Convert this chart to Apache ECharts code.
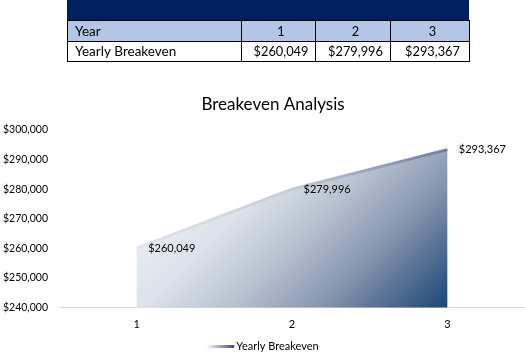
<!DOCTYPE html>
<html><head><meta charset="utf-8">
<script src="https://cdn.jsdelivr.net/npm/echarts@6/dist/echarts.min.js"></script>
<style>html,body{margin:0;padding:0;background:#fff}#c{width:525px;height:361px}</style>
</head><body><div id="c"></div>
<script>
const years = ['1', '2', '3'];
const breakeven = [260049, 279996, 293367];
const seriesName = 'Yearly Breakeven';
const rowLabels = ['Year', 'Yearly Breakeven'];
const chartTitle = 'Breakeven Analysis';

const FONT = 'Lato';
const fmt = v => '$' + Math.round(v).toLocaleString('en-US');

// table layout
const colX = [67, 241, 315, 390, 469];
const rowY = [0, 20, 41, 61];
const g = [];
g.push({type:'rect', shape:{x:colX[0], y:rowY[0], width:colX[4]-colX[0], height:rowY[1]-rowY[0]}, style:{fill:'#002060'}});
g.push({type:'rect', shape:{x:colX[0], y:rowY[1], width:colX[4]-colX[0], height:rowY[2]-rowY[1]}, style:{fill:'#b4c6e7'}});
for (let r = 1; r < rowY.length; r++) {
  g.push({type:'line', shape:{x1:colX[0], y1:rowY[r]+0.5, x2:colX[4]+1, y2:rowY[r]+0.5}, style:{stroke:'#000', lineWidth:1}});
}
for (let c = 0; c < colX.length; c++) {
  g.push({type:'line', shape:{x1:colX[c]+0.5, y1:rowY[1], x2:colX[c]+0.5, y2:rowY[3]}, style:{stroke:'#000', lineWidth:1}});
}
const rowVals = [years, breakeven.map(fmt)];
for (let r = 0; r < 2; r++) {
  const cy = (rowY[r+1] + rowY[r+2]) / 2 + 1;
  g.push({type:'text', x:colX[0]+8, y:cy, style:{text:rowLabels[r], fill:'#000', font:'13.5px ' + FONT, textVerticalAlign:'middle', verticalAlign:'middle'}});
  for (let c = 0; c < 3; c++) {
    const cx = (colX[c+1] + colX[c+2]) / 2 + 3;
    g.push({type:'text', x:cx, y:cy, style:{text:rowVals[r][c], fill:'#000', font:'12.8px ' + FONT, textAlign:'center', align:'center', textVerticalAlign:'middle', verticalAlign:'middle'}});
  }
}

const chart = echarts.init(document.getElementById('c'));
chart.setOption({
  animation: false,
  textStyle: {fontFamily: FONT},
  title: {text: chartTitle, left: 268, top: 91, textAlign: 'center',
    textStyle: {fontFamily: FONT, fontSize: 17, fontWeight: 'normal', color: '#000'}},
  graphic: g,
  grid: {left: 59, right: -2, top: 130, bottom: 53.5},
  legend: {bottom: 4, left: 'center', itemWidth: 28, itemHeight: 3, icon: 'rect',
    itemGap: 2,
    textStyle: {fontFamily: FONT, fontSize: 11, color: '#000', padding: [0,0,0,-3]},
    data: [{name: seriesName, itemStyle: {color: new echarts.graphic.LinearGradient(0,0,1,0,[{offset:0,color:'#ffffff'},{offset:1,color:'#3b4d7a'}])}}]},
  xAxis: {type: 'category', data: years, boundaryGap: true,
    axisLine: {lineStyle: {color: '#d9d9d9'}}, axisTick: {show: false},
    axisLabel: {color: '#000', fontSize: 11, margin: 11, fontFamily: FONT}},
  yAxis: {type: 'value', min: 240000, max: 300000, interval: 10000,
    splitLine: {show: false}, axisLine: {show: false}, axisTick: {show: false},
    axisLabel: {formatter: fmt, align: 'left', margin: 56, color: '#000', fontSize: 10.5, fontFamily: FONT}},
  series: [{
    name: seriesName, type: 'line', data: breakeven,
    symbol: 'circle', symbolSize: 1,
    itemStyle: {color: 'rgba(0,0,0,0)'},
    lineStyle: {width: 3, color: new echarts.graphic.LinearGradient(0,0,1,0,[{offset:0,color:'#e2e5ed'},{offset:0.5,color:'#c6cbd9'},{offset:1,color:'#6e7ba0'}])},
    areaStyle: {opacity: 1, color: new echarts.graphic.LinearGradient(0,0,0.753,1.487,[
      {offset:0, color:'#f6f7fa'},
      {offset:0.35, color:'#dde2ea'},
      {offset:0.55, color:'#b3bfcd'},
      {offset:0.72, color:'#8797b0'},
      {offset:1, color:'#1c4676'}])},
    label: {show: true, position: 'right', distance: 11, formatter: p => fmt(p.value), color: '#000', fontSize: 11, fontFamily: FONT}
  }]
});
</script>
</body></html>
